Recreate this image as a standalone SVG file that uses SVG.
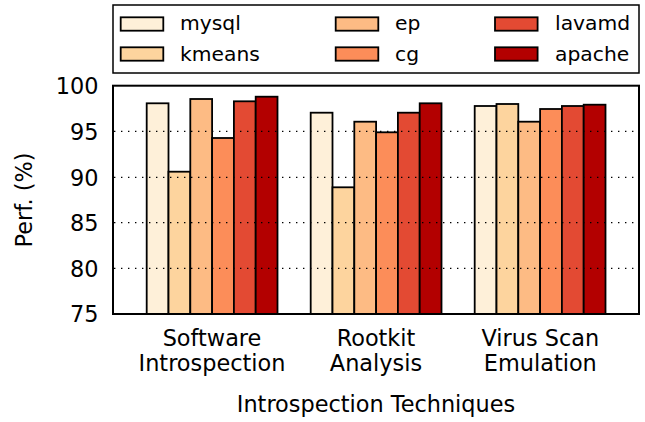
<svg xmlns="http://www.w3.org/2000/svg" width="645" height="422" viewBox="0 0 645 422">
<style>
text{font-family:"DejaVu Sans","Liberation Sans",sans-serif;fill:#000}
.tk{font-size:22.4px}
.lg{font-size:20.3px}
.bar{stroke:#000;stroke-width:1.8}
.c1{fill:#fef0d9}.c2{fill:#fdd49e}.c3{fill:#fdbb84}.c4{fill:#fc8d59}.c5{fill:#e34a33}.c6{fill:#b30000}
.grid{stroke:#000;stroke-width:1.2;stroke-dasharray:1.4 5.6;fill:none}
</style>
<rect width="645" height="422" fill="#fff"/>
<g id="legend">
<rect x="113" y="5" width="526" height="68" fill="#fff" stroke="#000" stroke-width="1.5"/>
<rect class="bar c1" x="120.7" y="17.3" width="42.6" height="13.4"/>
<text class="lg" x="180" y="30">mysql</text>
<rect class="bar c2" x="120.7" y="47.3" width="42.6" height="13.4"/>
<text class="lg" x="180" y="61">kmeans</text>
<rect class="bar c3" x="335.7" y="17.3" width="42.6" height="13.4"/>
<text class="lg" x="395" y="30">ep</text>
<rect class="bar c4" x="335.7" y="47.3" width="42.6" height="13.4"/>
<text class="lg" x="395" y="61">cg</text>
<rect class="bar c5" x="495" y="17.3" width="42.6" height="13.4"/>
<text class="lg" x="555" y="30">lavamd</text>
<rect class="bar c6" x="495" y="47.3" width="42.6" height="13.4"/>
<text class="lg" x="555" y="61">apache</text>
</g>
<g id="group-software">
<rect class="bar c1" x="146.7" y="103.3" width="21.8" height="210.7"/>
<rect class="bar c2" x="168.5" y="171.7" width="21.8" height="142.3"/>
<rect class="bar c3" x="190.3" y="99" width="21.8" height="215"/>
<rect class="bar c4" x="212.1" y="138" width="21.8" height="176"/>
<rect class="bar c5" x="233.9" y="101.3" width="21.8" height="212.7"/>
<rect class="bar c6" x="255.7" y="96.7" width="21.8" height="217.3"/>
</g>
<g id="group-rootkit">
<rect class="bar c1" x="310.7" y="112.7" width="21.8" height="201.3"/>
<rect class="bar c2" x="332.5" y="187.3" width="21.8" height="126.7"/>
<rect class="bar c3" x="354.3" y="121.7" width="21.8" height="192.3"/>
<rect class="bar c4" x="376.1" y="132.3" width="21.8" height="181.7"/>
<rect class="bar c5" x="397.9" y="112.7" width="21.8" height="201.3"/>
<rect class="bar c6" x="419.7" y="103.3" width="21.8" height="210.7"/>
</g>
<g id="group-virus">
<rect class="bar c1" x="474.7" y="106" width="21.8" height="208"/>
<rect class="bar c2" x="496.5" y="104" width="21.8" height="210"/>
<rect class="bar c3" x="518.3" y="121.7" width="21.8" height="192.3"/>
<rect class="bar c4" x="540.1" y="109" width="21.8" height="205"/>
<rect class="bar c5" x="561.9" y="106" width="21.8" height="208"/>
<rect class="bar c6" x="583.7" y="104.7" width="21.8" height="209.3"/>
</g>
<g id="grid">
<line class="grid" x1="114" y1="131.3" x2="639" y2="131.3"/>
<line class="grid" x1="114" y1="177.3" x2="639" y2="177.3"/>
<line class="grid" x1="114" y1="222.7" x2="639" y2="222.7"/>
<line class="grid" x1="114" y1="268.3" x2="639" y2="268.3"/>
</g>
<g id="axes">
<rect x="113" y="85.7" width="526" height="228.3" fill="none" stroke="#000" stroke-width="2"/>
<g class="tk" text-anchor="end">
<text x="98.5" y="93.7">100</text>
<text x="98.5" y="139.5">95</text>
<text x="98.5" y="185.5">90</text>
<text x="98.5" y="230.9">85</text>
<text x="98.5" y="276.5">80</text>
<text x="98.5" y="322.2">75</text>
</g>
<g class="tk" text-anchor="middle">
<text x="212" y="345.5">Software</text>
<text x="212" y="370.5">Introspection</text>
<text x="376" y="345.5">Rootkit</text>
<text x="376" y="370.5">Analysis</text>
<text x="540.3" y="345.5">Virus Scan</text>
<text x="540.3" y="370.5">Emulation</text>
<text x="376" y="412">Introspection Techniques</text>
<text transform="translate(32 200) rotate(-90)">Perf. (%)</text>
</g>
</g>
</svg>
